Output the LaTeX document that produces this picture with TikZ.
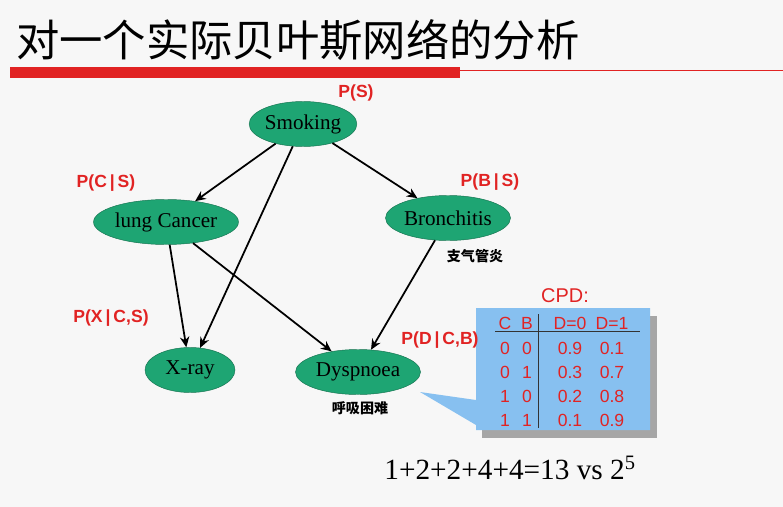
\documentclass[tikz,border=0pt]{standalone}
\usepackage{fontspec}
\setmainfont{Liberation Serif}
\newfontfamily\cjk{Noto Sans CJK SC}
\newfontfamily\labfont{Liberation Sans}
\usetikzlibrary{shapes.geometric, arrows.meta}
\tikzset{>=stealth}
\definecolor{nodegreen}{RGB}{30,165,115}
\definecolor{prred}{RGB}{225,35,35}
\definecolor{cpdblue}{RGB}{135,192,240}
\tikzset{
  var/.style={ellipse, draw=nodegreen!70!black, fill=nodegreen, minimum height=45*0.03cm, font=\fontsize{18}{18}\selectfont, inner sep=0pt},
  prob/.style={text=prred, font=\labfont\bfseries\fontsize{15}{15}\selectfont},
  cn/.style={font=\cjk\bfseries\fontsize{12}{12}\selectfont},
  cpd/.style={text=prred, font=\labfont\fontsize{15}{15}\selectfont},
  edge/.style={-{Stealth[length=9pt,width=8pt]}, line width=1.5pt}
}
\begin{document}
\begin{tikzpicture}[x=0.03cm,y=-0.03cm]
\fill[gray!6] (0,0) rectangle (783,507);
\useasboundingbox (0,0) rectangle (783,507);
% title
\node[anchor=west, font=\cjk\fontsize{37}{37}\selectfont] (title) at (12,40) {对一个实际贝叶斯网络的分析};
\fill[prred] (10,67) rectangle (460,78);
\draw[prred] (460,70) -- (783,70);
% nodes
\node[var, minimum width=105*0.03cm] (S) at (303,124) {Smoking};
\node[var, minimum width=140*0.03cm] (C) at (166,222) {lung Cancer};
\node[var, minimum width=125*0.03cm] (B) at (448,218) {Bronchitis};
\node[var, minimum width=90*0.03cm] (X) at (190,370) {X-ray};
\node[var, minimum width=125*0.03cm] (D) at (358,372) {Dyspnoea};
% edges
\draw[edge] (S) -- (C);
\draw[edge] (S) -- (B);
\draw[edge] (S) -- (X);
\draw[edge] (C) -- (X);
\draw[edge] (C) -- (D);
\draw[edge] (B) -- (D);
% CPD callout
\fill[gray!70] (482,316) rectangle (657,438);
\fill[cpdblue] (420,392) -- (476,400) -- (476,308) -- (650,308) -- (650,430) -- (476,430) -- (476,425) -- cycle;
\node[cpd, font=\labfont\fontsize{17}{17}\selectfont] (cpdt) at (565,296) {CPD:};
\draw[black!80, thick] (538,314) -- (538,428);
\draw[black!80, thick] (495,331) -- (640,331);
\node[cpd] at (505,323) {C};
\node[cpd] at (527,323) {B};
\node[cpd] at (570,323) {D=0};
\node[cpd] at (612,323) {D=1};
\foreach \c/\b/\p/\q [count=\i] in {0/0/0.9/0.1, 0/1/0.3/0.7, 1/0/0.2/0.8, 1/1/0.1/0.9}
{
\node[cpd] at (505,324+24*\i) {\c};
\node[cpd] at (527,324+24*\i) {\b};
\node[cpd] at (570,324+24*\i) {\p};
\node[cpd] at (612,324+24*\i) {\q};
}
% probabilities
\node[prob] (pS) at (356,93) {P(S)};
\node[prob] (pC) at (106,183) {P(C\,|\,S)};
\node[prob] (pB) at (490,182) {P(B\,|\,S)};
\node[prob] (pX) at (111,318) {P(X\,|\,C,S)};
\node[prob] (pD) at (440,340) {P(D\,|\,C,B)};
\node[cn] (cB) at (475,256) {支气管炎};
\node[cn] (cD) at (360,408) {呼吸困难};
\node[font=\fontsize{25}{25}\selectfont] (count) at (510,468) {1+2+2+4+4=13 vs 2\textsuperscript{5}};
\end{tikzpicture}
\end{document}
